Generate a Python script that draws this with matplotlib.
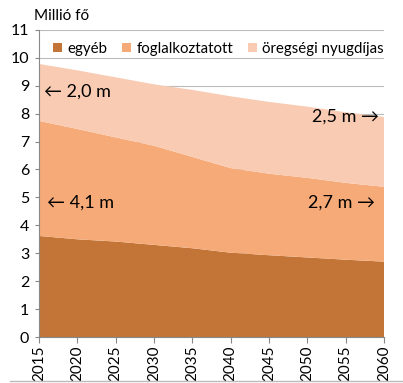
import matplotlib.pyplot as plt
from matplotlib.lines import Line2D

# data (million persons)
years = [2015, 2020, 2025, 2030, 2035, 2040, 2045, 2050, 2055, 2060]
egyeb = [3.62, 3.50, 3.42, 3.30, 3.18, 3.02, 2.93, 2.85, 2.77, 2.70]
foglalkoztatott = [4.12, 3.95, 3.73, 3.55, 3.27, 3.03, 2.92, 2.85, 2.75, 2.68]
nyugdijas = [2.04, 2.10, 2.15, 2.20, 2.40, 2.57, 2.57, 2.55, 2.53, 2.50]
labels = ["egyéb", "foglalkoztatott", "öregségi nyugdíjas"]
colors = ["#C27537", "#F6AA78", "#F9CBB2"]

plt.rcParams["font.family"] = ["Lato", "DejaVu Sans"]

fig = plt.figure(figsize=(4.03, 3.83), dpi=100)
ax = fig.add_axes([0.097, 0.12, 0.856, 0.802])

ax.stackplot(years, egyeb, foglalkoztatott, nyugdijas, colors=colors,
             labels=labels, linewidth=0, zorder=2)

ax.set_xlim(2015, 2060)
ax.set_ylim(0, 11)
ax.set_xticks(years)
ax.set_xticklabels([str(y) for y in years], rotation=90, fontsize=11)
ax.set_yticks(range(0, 12))
ax.tick_params(axis="y", labelsize=11.5, length=3, color="#888888", pad=4)
ax.tick_params(axis="x", length=4, color="#888888", pad=2)
ax.grid(axis="y", color="#BBBBBB", linewidth=0.8, zorder=0)
for s in ["top", "right"]:
    ax.spines[s].set_visible(False)
ax.spines["left"].set_color("#888888")
ax.spines["bottom"].set_color("#888888")

fig.text(0.085, 0.94, "Millió fő", fontsize=11, ha="left", va="bottom")

ax.legend(loc="upper center", ncol=3, frameon=False, fontsize=10.8,
          handlelength=0.6, handleheight=0.6, handletextpad=0.35,
          columnspacing=1.0, bbox_to_anchor=(0.52, 0.99), borderaxespad=0.2)

ax.text(2015.6, 8.8, "← 2,0 m", fontsize=13, ha="left", va="center")
ax.text(2059.3, 7.9, "2,5 m →", fontsize=13, ha="right", va="center")
ax.text(2016.0, 4.8, "← 4,1 m", fontsize=13, ha="left", va="center")
ax.text(2058.8, 4.8, "2,7 m →", fontsize=13, ha="right", va="center")

fig.add_artist(Line2D([0.025, 1.0], [0.005, 0.005], color="#BBBBBB",
                      linewidth=1, transform=fig.transFigure))

fig.savefig("out.png", dpi=100)
plt.close()
